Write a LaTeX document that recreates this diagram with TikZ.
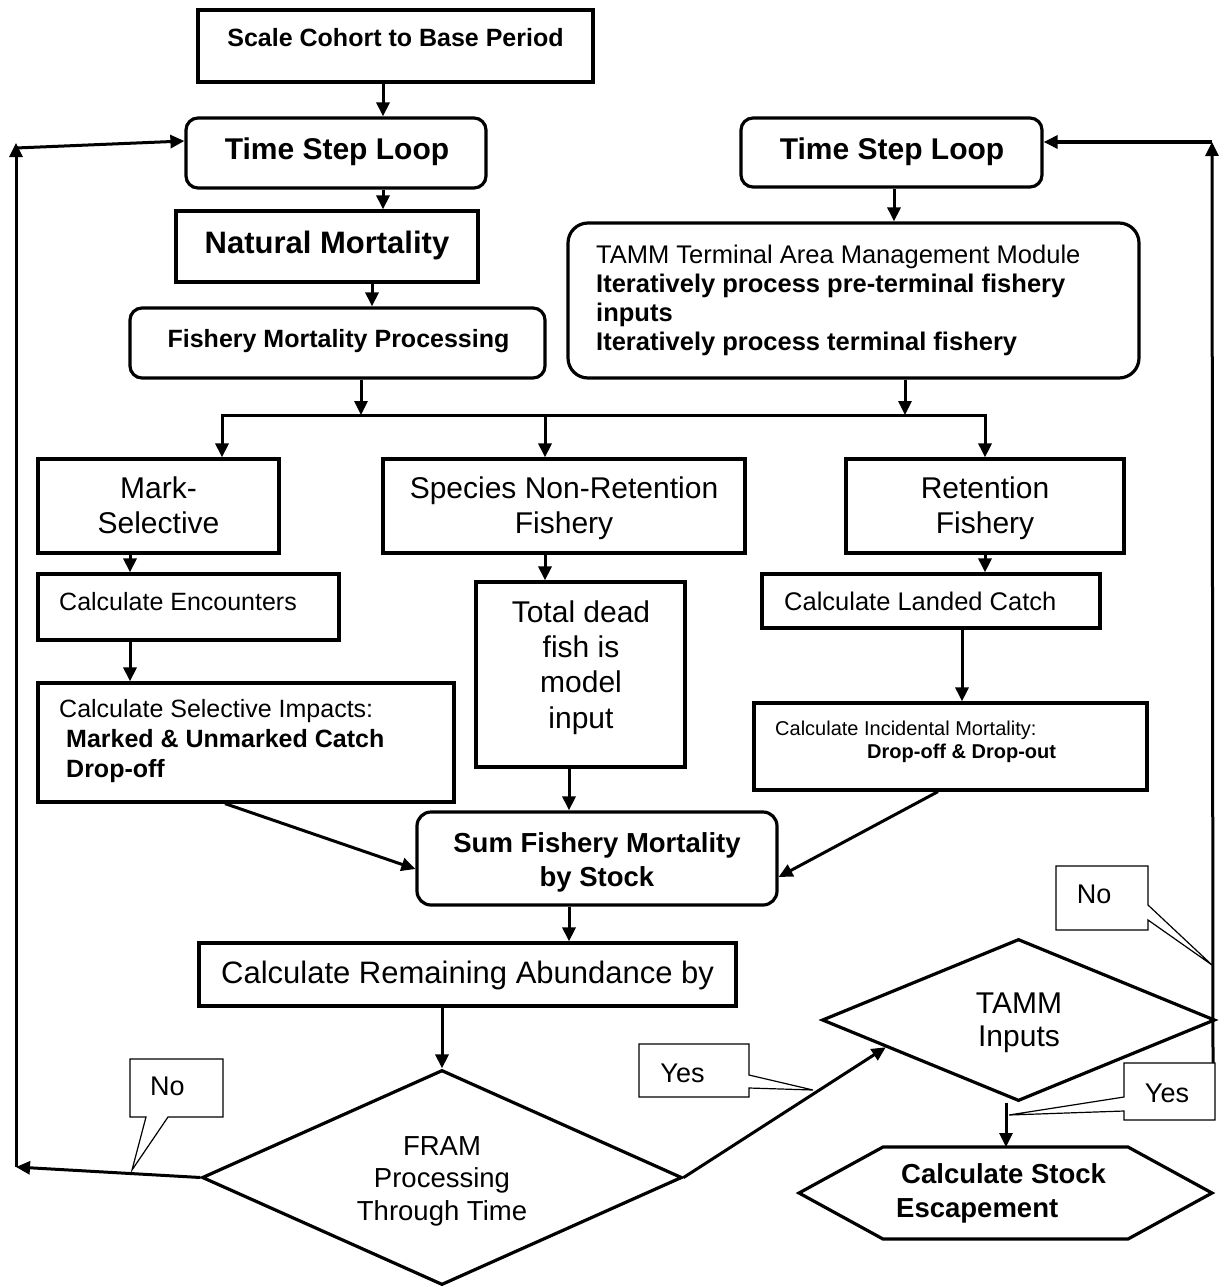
\documentclass[tikz,border=0pt]{standalone}
\usepackage{fontspec}
\setmainfont{Liberation Sans}
\usetikzlibrary{arrows.meta,shapes.geometric,calc}
\begin{document}
\begin{tikzpicture}[x=1pt,y=-1pt,
  box/.style={draw, line width=3.2pt, inner sep=0pt},
  rbox/.style={box, rounded corners=12pt},
  arr/.style={line width=3pt, -{Triangle[length=14pt,width=13pt]}},
  ln/.style={line width=3pt},
  callout/.style={draw, line width=1.2pt, fill=white, line join=miter},
  txt/.style={inner sep=0pt, anchor=base},
  fs/.style 2 args={font=\fontsize{#1}{#2}\selectfont},
  bfs/.style 2 args={font=\fontsize{#1}{#2}\selectfont\bfseries},
]
\useasboundingbox (0,0) rectangle (1223,1287);

% ---------- boxes ----------
\node[box, line width=4.5pt, minimum width=395pt, minimum height=72pt] (scale) at (395.5,46) {};
\node[rbox, minimum width=300pt, minimum height=70pt] (tsl1) at (336,153) {};
\node[box, minimum width=302pt, minimum height=71pt] (nat) at (327,246.5) {};
\node[rbox, minimum width=415pt, minimum height=70pt] (fmp) at (337.5,343) {};
\node[rbox, minimum width=301pt, minimum height=69pt] (tsl2) at (891.5,152.5) {};
\node[box, rounded corners=20pt, minimum width=571pt, minimum height=155pt] (tamm) at (853.5,300.5) {};
\node[box, minimum width=241pt, minimum height=94pt] (mark) at (158.5,506) {};
\node[box, minimum width=362pt, minimum height=94pt] (species) at (564,506) {};
\node[box, minimum width=278pt, minimum height=94pt] (ret) at (985,506) {};
\node[box, minimum width=301pt, minimum height=66pt] (enc) at (188.5,607) {};
\node[box, minimum width=416pt, minimum height=119pt] (sel) at (246,742.5) {};
\node[box, minimum width=209pt, minimum height=185pt] (dead) at (580.5,674.5) {};
\node[box, minimum width=338pt, minimum height=54pt] (land) at (931,601) {};
\node[box, minimum width=393pt, minimum height=87pt] (inc) at (950.5,746.5) {};
\node[rbox, rounded corners=14pt, minimum width=360pt, minimum height=93pt] (sum) at (597,858.5) {};
\node[box, minimum width=537pt, minimum height=63pt] (rem) at (467.5,974.5) {};
\node[box, diamond, minimum width=480pt, minimum height=215pt] (fram) at (442,1177.5) {};
\node[box, diamond, minimum width=393pt, minimum height=162pt] (tammd) at (1018.5,1020) {};
\draw[line width=3.2pt, line join=miter] (883,1147) coordinate (hexTL) -- (1128,1147) -- (1212,1193) -- (1128,1239) -- (883,1239) -- (799,1193) -- cycle;
\coordinate (hexTop) at (1006,1147);

% ---------- texts (multi-line nodes: base = last line) ----------
\node[txt, bfs={25}{30}] (scaleT) at (395.5,47) {Scale Cohort to Base Period};
\node[txt, bfs={30}{36}] (tsl1T) at (337,160) {Time Step Loop};
\node[txt, bfs={30}{36}] (tsl2T) at (892,160) {Time Step Loop};
\node[txt, bfs={31}{36}] (natT) at (327,253) {Natural Mortality};
\node[txt, bfs={25}{30}] (fmpT) at (338.5,347) {Fishery Mortality Processing};
\node[txt, fs={25.5}{29}, align=left, anchor=base west] (tammT) at (596,350)
  {TAMM Terminal Area Management Module\\\textbf{Iteratively process pre-terminal fishery}\\\textbf{inputs}\\\textbf{Iteratively process terminal fishery}};
\node[txt, fs={30}{35}, align=center] (markT) at (158.5,533) {Mark-\\Selective};
\node[txt, fs={30}{35}, align=center] (speciesT) at (564,533) {Species Non-Retention\\Fishery};
\node[txt, fs={30}{35}, align=center] (retT) at (985,533) {Retention\\Fishery};
\node[txt, fs={25}{30}, anchor=base west] (encT) at (59,610) {Calculate Encounters};
\node[txt, fs={25}{30}, align=left, anchor=base west] (selT) at (59,777)
  {Calculate Selective Impacts:\\\hspace*{7pt}\textbf{Marked \& Unmarked Catch}\\\hspace*{7pt}\textbf{Drop-off}};
\node[txt, fs={30}{35.3}, align=center] (deadT) at (581,728) {Total dead\\fish is\\model\\input};
\node[txt, fs={25.5}{30}, anchor=base west] (landT) at (784,610) {Calculate Landed Catch};
\node[txt, fs={20}{23}, align=left, anchor=base west] (incT) at (775,758)
  {Calculate Incidental Mortality:\\\hspace*{92pt}\textbf{Drop-off \& Drop-out}};
\node[txt, bfs={27.5}{34}, align=center] (sumT) at (597,886) {Sum Fishery Mortality\\by Stock};
\node[txt, fs={31}{36}, anchor=base west] (remT) at (221,983) {Calculate Remaining Abundance by};
\node[txt, fs={27.5}{32.5}, align=center] (framT) at (442,1220) {FRAM\\Processing\\Through Time};
\node[txt, fs={30}{33}, align=center] (tammdT) at (1019,1046) {TAMM\\Inputs};
\node[txt, bfs={27.5}{34}, align=left, anchor=base west] (hexT) at (896,1217) {\hspace*{5pt}Calculate Stock\\Escapement};

% ---------- connectors ----------
\coordinate (p1) at ([xshift=-12.5pt]scale.south);
\draw[arr] (p1) -- (p1 |- tsl1.north);
\coordinate (p2) at ([xshift=47pt]tsl1.south);
\draw[arr] (p2) -- (p2 |- nat.north);
\coordinate (p3) at ([xshift=45pt]nat.south);
\draw[arr] (p3) -- (p3 |- fmp.north);
\coordinate (brL) at (222,415);
\coordinate (brM) at (545,415);
\coordinate (brR) at (985,415);
\coordinate (p4) at ([xshift=23.5pt]fmp.south);
\draw[arr] (p4) -- (p4 |- brL);
\coordinate (p5) at ([xshift=2.5pt]tsl2.south);
\draw[arr] (p5) -- (p5 |- tamm.north);
\coordinate (p6) at ([xshift=51.5pt]tamm.south);
\draw[arr] (p6) -- (p6 |- brL);
\draw[arr] (brM) -- (brL) -- (brL |- mark.north);
\draw[arr] (brM) -- (brR) -- (brR |- ret.north);
\draw[arr] (brM) -- (brM |- species.north);
\coordinate (p7) at ([xshift=-28.5pt]mark.south);
\draw[arr] (p7) -- (p7 |- enc.north);
\coordinate (p8) at ([xshift=-58.5pt]enc.south);
\draw[arr] (p8) -- (p8 |- sel.north);
\coordinate (p9) at ([xshift=-19pt]species.south);
\draw[arr] (p9) -- (p9 |- dead.north);
\coordinate (p10) at ([xshift=-11.5pt]dead.south);
\draw[arr] (p10) -- (p10 |- sum.north);
\coordinate (p11) at (ret.south);
\draw[arr] (p11) -- (p11 |- land.north);
\coordinate (p12) at ([xshift=31pt]land.south);
\draw[arr] (p12) -- (p12 |- inc.north);
\draw[arr] ([xshift=-21pt]sel.south) -- ([yshift=-10.5pt]sum.west);
\draw[arr] ([xshift=-12.5pt]inc.south) -- ([yshift=-18.5pt]sum.east);
\coordinate (p13) at ([xshift=-28pt]sum.south);
\draw[arr] (p13) -- (p13 |- rem.north);
\coordinate (p14) at ([xshift=-25.5pt]rem.south);
\draw[arr] (p14) -- (p14 |- fram.north);
% left loop
\coordinate (cL1) at (16,1167);
\coordinate (cL2) at (16,143);
\coordinate (cL3) at (16,148);
\draw[arr] (fram.west) -- (cL1);
\draw[arr] (cL1) -- (cL2);
\draw[arr] (cL3) -- ([yshift=12pt]tsl1.west);
% right loop
\coordinate (cR0) at (1213,1063);
\coordinate (cR1) at (1212,142);
\draw[arr] (cR0) -- (cR1);
\draw[arr] (cR1) -- ([yshift=10.5pt]tsl2.east);
% yes to TAMM
\draw[arr] (fram.east) -- ($(tammd.west)!0.33!(tammd.south)$);
\draw[arr] (tammd.south -| hexTop) -- (hexTop);

% ---------- callouts ----------
\draw[callout] (130,1059) -- (223,1059) -- (223,1117) -- (168,1117) -- (132,1170) -- (146,1117) -- (130,1117) -- cycle;
\node[txt, fs={27}{32}] (no1) at (167.5,1095) {No};
\draw[callout] (1056,866) -- (1148,866) -- (1148,905) -- (1212,965) -- (1148,920) -- (1148,930) -- (1056,930) -- cycle;
\node[txt, fs={27}{32}] (no2) at (1094,903) {No};
\draw[callout] (639,1044) -- (749,1044) -- (749,1075) -- (813,1090) -- (749,1088) -- (749,1097) -- (639,1097) -- cycle;
\node[txt, fs={27}{32}] (yes1) at (682.5,1082) {Yes};
\draw[callout] (1124,1063) -- (1215,1063) -- (1215,1120) -- (1124,1120) -- (1124,1111) -- (1009,1115) -- (1124,1097) -- cycle;
\node[txt, fs={27}{32}] (yes2) at (1167,1102) {Yes};
\end{tikzpicture}
\end{document}
